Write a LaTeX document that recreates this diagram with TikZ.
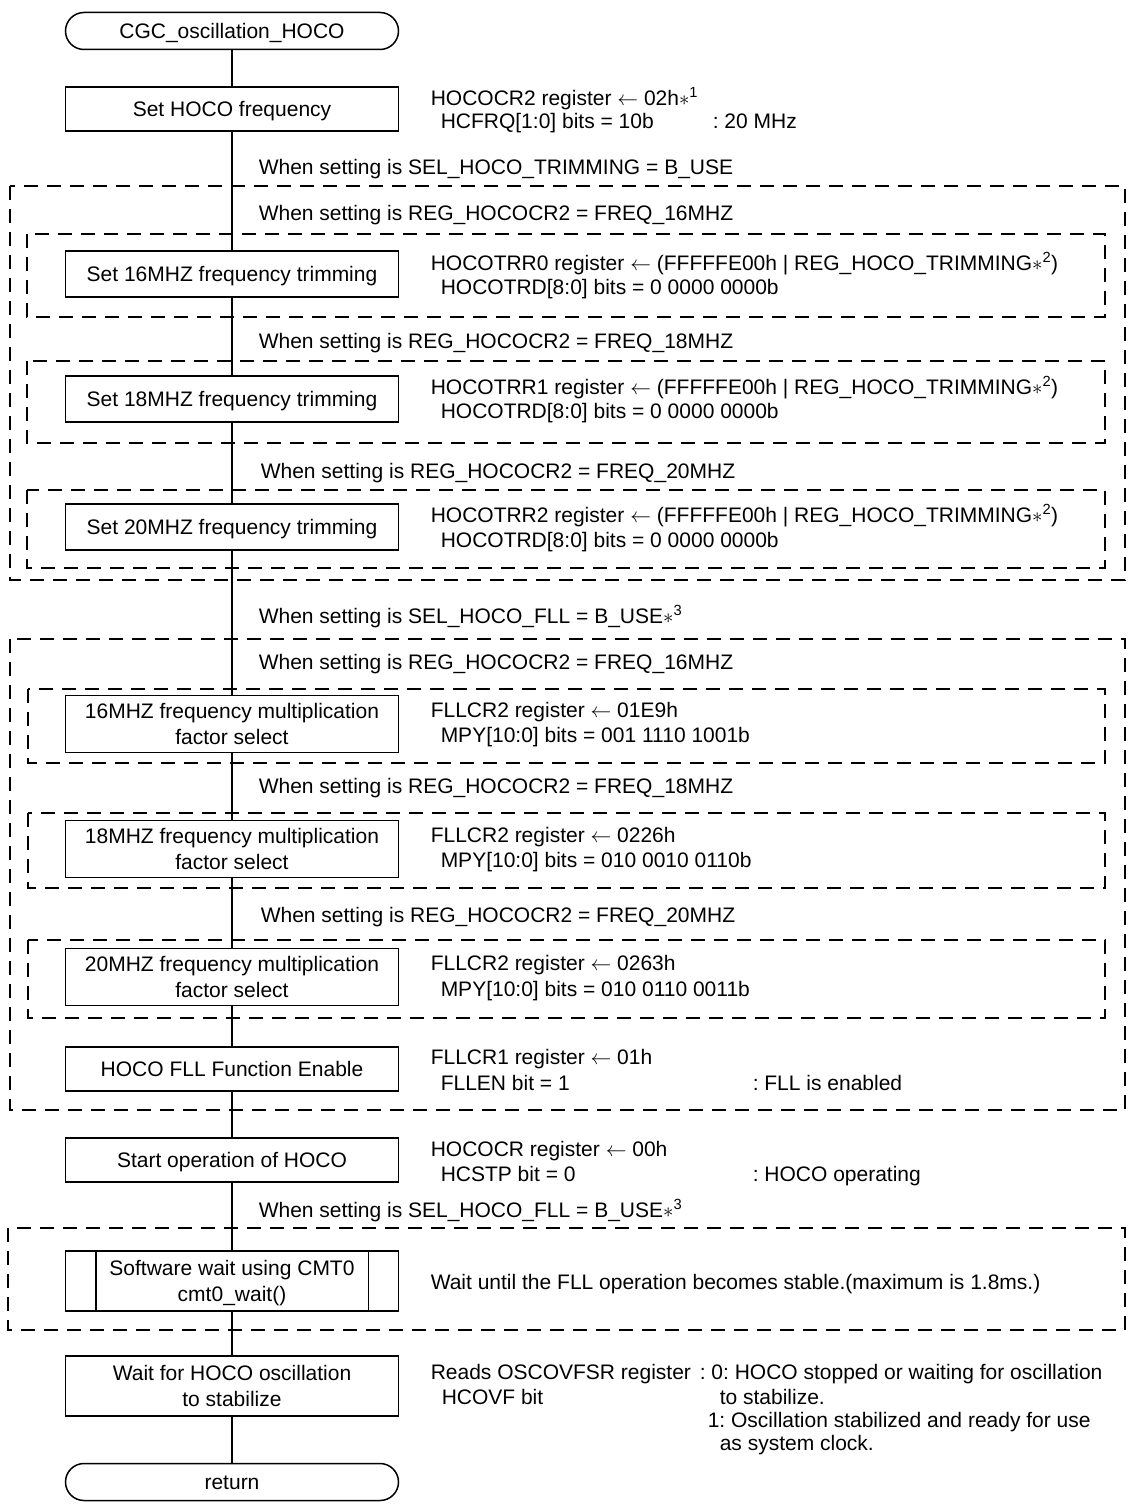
\documentclass[tikz,border=0pt]{standalone}
\usepackage{fontspec}
\setmainfont{Liberation Sans}
\frenchspacing
% two centred lines inside a flowchart box, aligned on the first baseline
\newcommand\twoline[2]{\begin{tabular}[t]{@{}c@{}}#1\\#2\end{tabular}}
% footnote marker such as *1
\newcommand\fnmark[1]{$\ast$\textsuperscript{#1}}
\newcommand\getsarrow{$\leftarrow$}
\begin{document}
\begin{tikzpicture}[x=1pt,y=-1pt,line width=1.5pt,
  every node/.style={font=\fontsize{21}{26}\selectfont},
  flowbox/.style={draw, minimum width=333pt, inner sep=0pt, text height=15pt, text depth=0pt},
  procbox/.style={flowbox, minimum height=44pt},
  tallbox/.style={flowbox, minimum height=57pt, text depth=26pt},
  termbox/.style={flowbox, minimum height=37pt, rounded corners=18.5pt},
  info/.style={anchor=base west, inner sep=0pt},
  cond/.style={anchor=base west, inner sep=0pt},
  group/.style={dash pattern=on 14pt off 9pt}]
\useasboundingbox (0,0) rectangle (1135,1504);

% ---------- optional groups (dashed frames) ----------
\draw[group] (10,186) rectangle (1125,580);
\draw[group] (27,234) rectangle (1105,317);
\draw[group] (27,361) rectangle (1105,443);
\draw[group] (27,490) rectangle (1105,568);
\draw[group] (10,639) rectangle (1125,1110);
\draw[group] (28,689) rectangle (1105,763);
\draw[group] (28,813) rectangle (1105,888);
\draw[group] (28,940) rectangle (1105,1018);
\draw[group] (8,1228) rectangle (1125,1330);

% ---------- flowchart boxes ----------
\node[termbox] (start) at (232,31) {CGC\_oscillation\_HOCO};
\node[procbox] (sethoco) at (232,109) {Set HOCO frequency};
\node[procbox, minimum height=46pt] (trim16) at (232,274) {Set 16MHZ frequency trimming};
\node[procbox, minimum height=46pt] (trim18) at (232,399) {Set 18MHZ frequency trimming};
\node[procbox, minimum height=46pt] (trim20) at (232,527) {Set 20MHZ frequency trimming};
\node[tallbox] (mul16) at (232,724) {\twoline{16MHZ frequency multiplication}{factor select}};
\node[tallbox] (mul18) at (232,849) {\twoline{18MHZ frequency multiplication}{factor select}};
\node[tallbox] (mul20) at (232,977) {\twoline{20MHZ frequency multiplication}{factor select}};
\node[procbox] (fllen) at (232,1069) {HOCO FLL Function Enable};
\node[procbox] (startop) at (232,1160) {Start operation of HOCO};
\node[tallbox, minimum height=60pt] (swwait) at (232,1281) {\twoline{Software wait using CMT0}{cmt0\_wait()}};
\node[tallbox, minimum height=60pt] (stab) at (232,1386) {\twoline{Wait for HOCO oscillation}{to stabilize}};
\node[termbox] (ret) at (232,1482) {return};

% subroutine side bars
\draw ([xshift=31pt]swwait.north west) -- ([xshift=31pt]swwait.south west);
\draw ([xshift=-31pt]swwait.north east) -- ([xshift=-31pt]swwait.south east);

% ---------- flow lines ----------
\draw (start) -- (sethoco);
\draw (sethoco) -- (trim16);
\draw (trim16) -- (trim18);
\draw (trim18) -- (trim20);
\draw (trim20) -- (mul16);
\draw (mul16) -- (mul18);
\draw (mul18) -- (mul20);
\draw (mul20) -- (fllen);
\draw (fllen) -- (startop);
\draw (startop) -- (swwait);
\draw (swwait) -- (stab);
\draw (stab) -- (ret);

% ---------- conditions ----------
\node[cond] (c1) at (258,174.5) {When setting is SEL\_HOCO\_TRIMMING = B\_USE};
\node[cond] (c2) at (258,220.5) {When setting is REG\_HOCOCR2 = FREQ\_16MHZ};
\node[cond] (c3) at (258,348.5) {When setting is REG\_HOCOCR2 = FREQ\_18MHZ};
\node[cond] (c4) at (260,478.5) {When setting is REG\_HOCOCR2 = FREQ\_20MHZ};
\node[cond] (c5) at (258,623.5) {When setting is SEL\_HOCO\_FLL = B\_USE\fnmark{3}};
\node[cond] (c6) at (258,669.5) {When setting is REG\_HOCOCR2 = FREQ\_16MHZ};
\node[cond] (c7) at (258,793.5) {When setting is REG\_HOCOCR2 = FREQ\_18MHZ};
\node[cond] (c8) at (260,922.5) {When setting is REG\_HOCOCR2 = FREQ\_20MHZ};
\node[cond] (c9) at (258,1217.5) {When setting is SEL\_HOCO\_FLL = B\_USE\fnmark{3}};

% ---------- register notes ----------
\node[info] (n1a) at (430,105.5) {HOCOCR2 register \getsarrow{} 02h\fnmark{1}};
\node[info] (n1b) at (440,128.5) {HCFRQ[1:0] bits = 10b};
\node[info] (n1c) at (712,128.5) {: 20 MHz};

\node[info] (n2a) at (430,270.5) {HOCOTRR0 register \getsarrow{} (FFFFFE00h | REG\_HOCO\_TRIMMING\fnmark{2})};
\node[info] (n2b) at (440,294.5) {HOCOTRD[8:0] bits = 0 0000 0000b};

\node[info] (n3a) at (430,394.5) {HOCOTRR1 register \getsarrow{} (FFFFFE00h | REG\_HOCO\_TRIMMING\fnmark{2})};
\node[info] (n3b) at (440,418.5) {HOCOTRD[8:0] bits = 0 0000 0000b};

\node[info] (n4a) at (430,522.5) {HOCOTRR2 register \getsarrow{} (FFFFFE00h | REG\_HOCO\_TRIMMING\fnmark{2})};
\node[info] (n4b) at (440,547.5) {HOCOTRD[8:0] bits = 0 0000 0000b};

\node[info] (n5a) at (430,717.5) {FLLCR2 register \getsarrow{} 01E9h};
\node[info] (n5b) at (440,742.5) {MPY[10:0] bits = 001 1110 1001b};

\node[info] (n6a) at (430,842.5) {FLLCR2 register \getsarrow{} 0226h};
\node[info] (n6b) at (440,867.5) {MPY[10:0] bits = 010 0010 0110b};

\node[info] (n7a) at (430,970.5) {FLLCR2 register \getsarrow{} 0263h};
\node[info] (n7b) at (440,996.5) {MPY[10:0] bits = 010 0110 0011b};

\node[info] (n8a) at (430,1064.5) {FLLCR1 register \getsarrow{} 01h};
\node[info] (n8b) at (440,1090.5) {FLLEN bit = 1};
\node[info] (n8c) at (752,1090.5) {: FLL is enabled};

\node[info] (n9a) at (430,1156.5) {HOCOCR register \getsarrow{} 00h};
\node[info] (n9b) at (440,1181.5) {HCSTP bit = 0};
\node[info] (n9c) at (752,1181.5) {: HOCO operating};

\node[info] (n10) at (430,1289.5) {Wait until the FLL operation becomes stable.(maximum is 1.8ms.)};

\node[info] (n11a) at (430,1379.5) {Reads OSCOVFSR register};
\node[info] (n11b) at (441,1404.5) {HCOVF bit};
\node[info] (n11c) at (699,1379.5) {: 0: HOCO stopped or waiting for oscillation};
\node[info] (n11d) at (719,1404.5) {to stabilize.};
\node[info] (n11e) at (707,1427.5) {1: Oscillation stabilized and ready for use};
\node[info] (n11f) at (719,1450.5) {as system clock.};
\end{tikzpicture}
\end{document}
